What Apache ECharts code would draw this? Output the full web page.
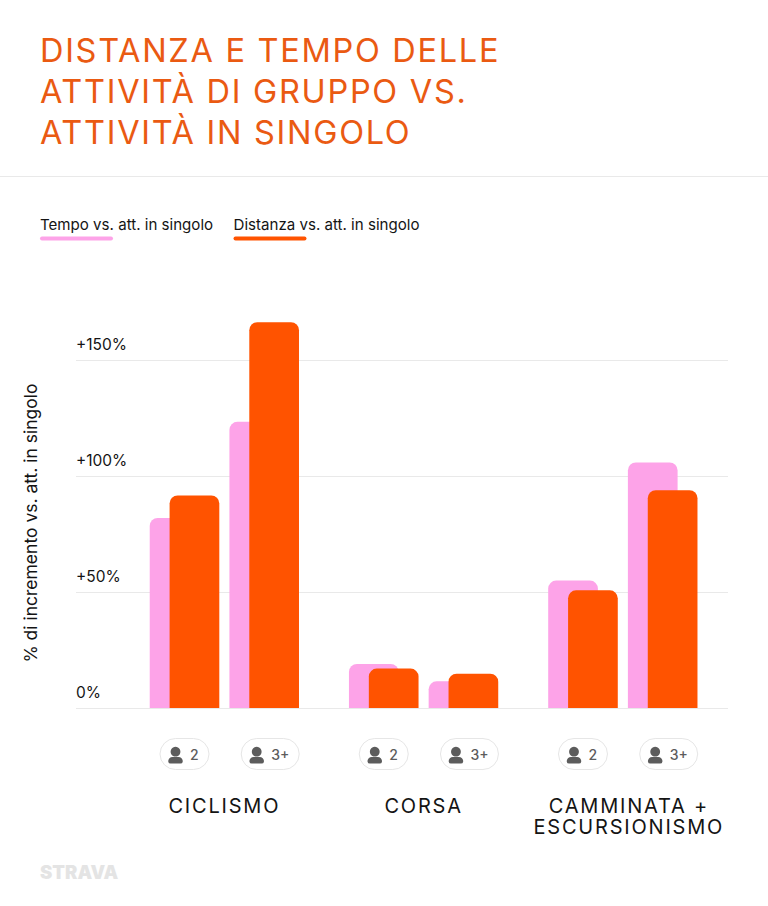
<!DOCTYPE html>
<html><head><meta charset="utf-8">
<style>html,body{margin:0;padding:0;background:#fff}#c{width:768px;height:906px}</style>
<script src="https://cdn.jsdelivr.net/npm/echarts@6/dist/echarts.min.js"></script>
</head><body><div id="c"></div>
<script>
const titleLines = ['DISTANZA E TEMPO DELLE','ATTIVITÀ DI GRUPPO VS.','ATTIVITÀ IN SINGOLO'];
const seriesNames = ['Tempo vs. att. in singolo','Distanza vs. att. in singolo'];
const yAxisTitle = '% di incremento vs. att. in singolo';
const slots = [0,2,5,7,10,12];
const groupSizes = ['2','3+','2','3+','2','3+'];
const tempo = [82,123.5,19,11.5,55,106];
const distanza = [91.7,166.5,17,14.8,50.8,94];
const activities = [['CICLISMO'],['CORSA'],['CAMMINATA +','ESCURSIONISMO']];
const activitySlots = [1,6,11];
const FONT='Inter';
const pink='#fda3e8', orange='#ff5300', titleCol='#ea5a12', ink='#141414';
const el=document.getElementById('c');
const chart=echarts.init(el,null,{renderer:'svg',width:768,height:906});
const zip=a=>a.map((v,i)=>[slots[i],v]);
const barRadius=[8,8,0,0];
chart.setOption({
  animation:false, backgroundColor:'#fff',
  grid:{left:76,right:40,top:244.6,height:463.4},
  xAxis:{type:'value',min:-2.723,max:13.639,show:false},
  yAxis:{type:'value',min:0,max:200,interval:50,
    axisLine:{show:false},axisTick:{show:false},
    splitLine:{show:true,showMaxLine:false,lineStyle:{color:'#e9e9e9',width:1}},
    axisLabel:{inside:true,margin:0,showMaxLabel:false,fontFamily:FONT,fontSize:15.5,color:ink,align:'left',
      verticalAlign:'bottom',lineHeight:32,formatter:v=>v===0?'0%':'+'+v+'%'}},
  series:[
    {name:seriesNames[0],type:'bar',barWidth:49.7,barGap:'-60%',data:zip(tempo),itemStyle:{color:pink,borderRadius:barRadius},z:2},
    {name:seriesNames[1],type:'bar',barWidth:49.7,barGap:'-60%',data:zip(distanza),itemStyle:{color:orange,borderRadius:barRadius},z:3}
  ]
});
const px=s=>chart.convertToPixel({xAxisIndex:0,yAxisIndex:0},[s,0])[0];
const g=[];
titleLines.forEach((t,i)=>g.push({type:'text',x:40,y:50+i*41.3,style:{text:t,font:'400 32.5px '+FONT,fill:titleCol,verticalAlign:'middle'}}));
g.push({type:'line',shape:{x1:0,y1:176.5,x2:768,y2:176.5},style:{stroke:'#e9e9e9',lineWidth:1}});
[[40,pink],[233.5,orange]].forEach(([x,c],i)=>{
  g.push({type:'text',x:x,y:224,style:{text:seriesNames[i],font:'400 15.1px '+FONT,fill:ink,verticalAlign:'middle'}});
  g.push({type:'rect',shape:{x:x,y:236.5,width:73,height:4,r:2},style:{fill:c}});
});
g.push({type:'text',x:30.5,y:523,rotation:Math.PI/2,style:{text:yAxisTitle,font:'400 17.5px '+FONT,fill:ink,align:'center',verticalAlign:'middle'}});
slots.forEach((s,i)=>{
  const wide=groupSizes[i].length>1;
  const w=wide?58:49, cx=px(s)+(wide?6:0), l=cx-w/2;
  g.push({type:'rect',shape:{x:l,y:738.5,width:w,height:31,r:15.5},style:{fill:'#fff',stroke:'#e6e6e6',lineWidth:1}});
  g.push({type:'circle',shape:{cx:l+15.5,cy:751.7,r:4.9},style:{fill:'#5c5c5c'}});
  g.push({type:'rect',shape:{x:l+8.2,y:757,width:14.6,height:6.6,r:[6,6,3.3,3.3]},style:{fill:'#5c5c5c'}});
  g.push({type:'text',x:l+30,y:754,style:{text:groupSizes[i],font:'500 14px '+FONT,fill:'#5c5c5c',verticalAlign:'middle'}});
});
activities.forEach((lines,i)=>lines.forEach((t,j)=>{
  g.push({type:'text',x:px(activitySlots[i])+(lines.length>1?6:0),y:806+j*21,style:{text:t,font:'400 20px '+FONT,fill:ink,align:'center',verticalAlign:'middle'}});
}));
g.push({type:'text',x:40,y:872,style:{text:'STRAVA',font:'900 18.5px '+FONT,fill:'#e4e4e4',verticalAlign:'middle'}});
chart.setOption({graphic:{elements:g}});
const spacing={}; titleLines.forEach(t=>spacing[t]='1.7px');
activities.flat().forEach(t=>spacing[t]='1.8px');
el.querySelectorAll('svg text').forEach(n=>{const k=n.textContent; if(spacing[k]) n.style.letterSpacing=spacing[k];});
</script></body></html>
